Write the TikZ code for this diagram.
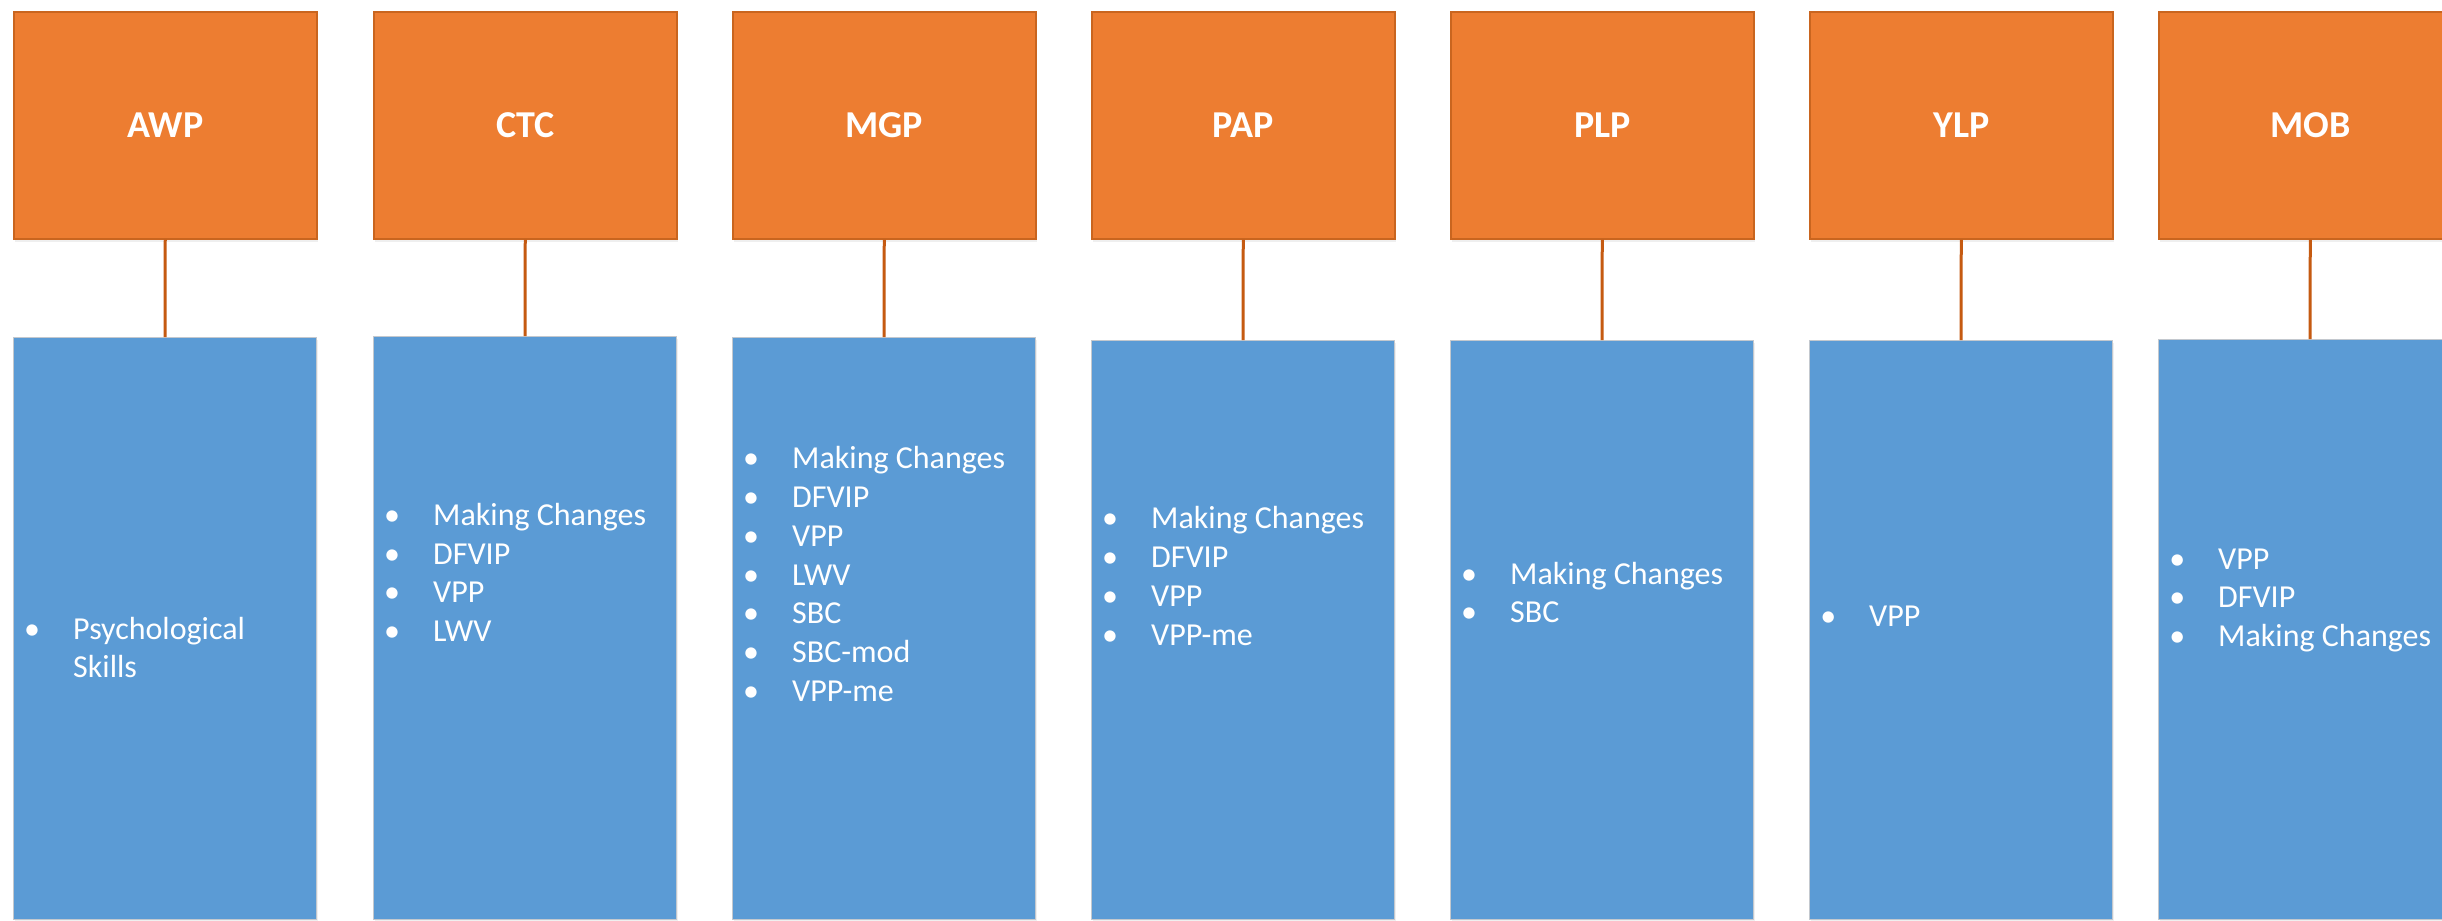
\documentclass[tikz,border=0pt]{standalone}
\usepackage{fontspec}
\setmainfont{Carlito}
\usetikzlibrary{shadows}
\definecolor{orgfill}{HTML}{ED7D31}
\definecolor{orgline}{HTML}{C9651F}
\definecolor{connc}{HTML}{C55A11}
\definecolor{blufill}{HTML}{5B9BD5}
\definecolor{bluline}{HTML}{C3C8CE}
\newcommand{\bitem}[1]{\makebox[0pt]{\textbullet}\hspace{41pt}#1}
\newcommand{\bcont}[1]{\hspace{41pt}#1}
\tikzset{
  headbox/.style={rectangle, fill=orgfill, draw=orgline, line width=1.5pt,
    minimum width=303pt, minimum height=227pt, inner sep=0pt, anchor=north west,
    text=white, font={\bfseries\fontsize{38}{44}\selectfont},
    drop shadow={shadow xshift=1.5pt, shadow yshift=-3pt, opacity=0.12}},
  listbox/.style={rectangle, fill=blufill, draw=bluline, line width=1.2pt,
    minimum width=303pt, inner sep=0pt, anchor=north west,
    drop shadow={shadow xshift=1.5pt, shadow yshift=-2pt, opacity=0.12}},
  listtext/.style={anchor=base west, inner sep=0pt, text=white,
    font={\fontsize{32}{38.8}\selectfont}},
  conn/.style={draw=connc, line width=3pt}
}
\begin{document}
\begin{tikzpicture}[x=1pt,y=-1pt]
\useasboundingbox (0,0) rectangle (2442,921);
\fill[white] (0,0) rectangle (2442,921);
% head boxes
\node[headbox] (awp) at (13,11) {AWP};
\node[headbox] (ctc) at (373,11) {CTC};
\node[headbox] (mgp) at (732,11) {MGP};
\node[headbox] (pap) at (1091,11) {PAP};
\node[headbox] (plp) at (1450,11) {PLP};
\node[headbox] (ylp) at (1809,11) {YLP};
\node[headbox] (mob) at (2158,11) {MOB};
% list boxes
\node[listbox, minimum height=582pt] (awpb) at (13,337) {};
\node[listbox, minimum height=583pt] (ctcb) at (373,336) {};
\node[listbox, minimum height=582pt] (mgpb) at (732,337) {};
\node[listbox, minimum height=579pt] (papb) at (1091,340) {};
\node[listbox, minimum height=579pt] (plpb) at (1450,340) {};
\node[listbox, minimum height=579pt] (ylpb) at (1809,340) {};
\node[listbox, minimum height=580pt] (mobb) at (2158,339) {};
% connectors
\draw[conn] (awp.south) -- (awpb.north);
\draw[conn] (ctc.south) -- (ctcb.north);
\draw[conn] (mgp.south) -- (mgpb.north);
\draw[conn] (pap.south) -- (papb.north);
\draw[conn] (plp.south) -- (plpb.north);
\draw[conn] (ylp.south) -- (ylpb.north);
\draw[conn] (mob.south) -- (mobb.north);
% list texts
\node[listtext] (awpt) at (32,639) {\begin{tabular}[t]{@{}l@{}}\bitem{Psychological}\\ \bcont{Skills}\end{tabular}};
\node[listtext] (ctct) at (392,525.3) {\begin{tabular}[t]{@{}l@{}}\bitem{Making Changes}\\ \bitem{DFVIP}\\ \bitem{VPP}\\ \bitem{LWV}\end{tabular}};
\node[listtext] (mgpt) at (751,468.6) {\begin{tabular}[t]{@{}l@{}}\bitem{Making Changes}\\ \bitem{DFVIP}\\ \bitem{VPP}\\ \bitem{LWV}\\ \bitem{SBC}\\ \bitem{SBC-mod}\\ \bitem{VPP-me}\end{tabular}};
\node[listtext] (papt) at (1110,528.6) {\begin{tabular}[t]{@{}l@{}}\bitem{Making Changes}\\ \bitem{DFVIP}\\ \bitem{VPP}\\ \bitem{VPP-me}\end{tabular}};
\node[listtext] (plpt) at (1469,584) {\begin{tabular}[t]{@{}l@{}}\bitem{Making Changes}\\ \bitem{SBC}\end{tabular}};
\node[listtext] (ylpt) at (1828,626.3) {\begin{tabular}[t]{@{}l@{}}\bitem{VPP}\end{tabular}};
\node[listtext] (mobt) at (2177,569) {\begin{tabular}[t]{@{}l@{}}\bitem{VPP}\\ \bitem{DFVIP}\\ \bitem{Making Changes}\end{tabular}};
\end{tikzpicture}
\end{document}
